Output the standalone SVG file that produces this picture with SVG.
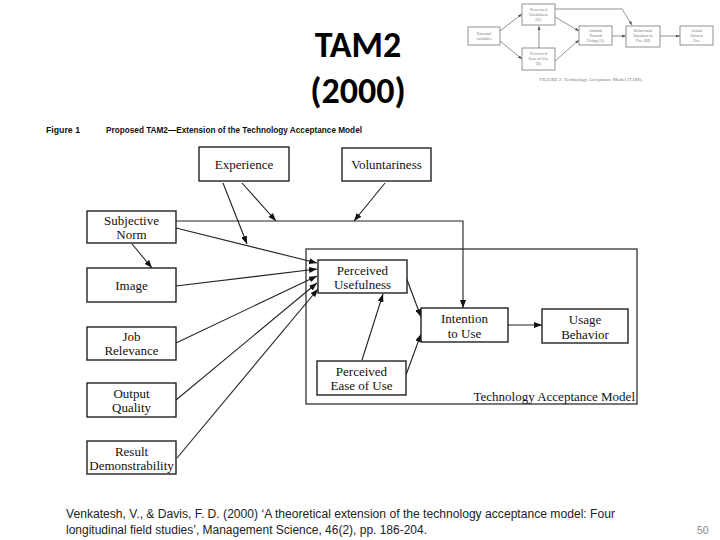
<svg xmlns="http://www.w3.org/2000/svg" width="720" height="540" viewBox="0 0 720 540">
<defs>
<marker id="ah" markerWidth="8" markerHeight="6" refX="8" refY="3" orient="auto" markerUnits="userSpaceOnUse">
<path d="M0,0 L8,3 L0,6 z" fill="#111"/>
</marker>
<marker id="ahs" markerWidth="4" markerHeight="3" refX="4" refY="1.5" orient="auto" markerUnits="userSpaceOnUse">
<path d="M0,0 L4,1.5 L0,3 z" fill="#555"/>
</marker>
<style>
.box{fill:#fff;stroke:#222;stroke-width:1.4}
.frame{fill:none;stroke:#333;stroke-width:1.3}
.t{font-family:"Liberation Serif","Times New Roman",serif;font-size:13px;fill:#111;text-anchor:middle}
.c{stroke:#222;stroke-width:1.1;fill:none}
.a{stroke:#222;stroke-width:1.1;fill:none;marker-end:url(#ah)}
.sb{fill:#fff;stroke:#777;stroke-width:0.8}
.st{font-family:"Liberation Serif","Times New Roman",serif;font-size:4.2px;fill:#777;text-anchor:middle}
.sa{stroke:#666;stroke-width:0.7;fill:none;marker-end:url(#ahs)}
.title{font-family:Carlito,"Liberation Sans",Arial,sans-serif;font-size:36px;font-weight:bold;fill:#000;text-anchor:middle}
.cap{font-family:"Liberation Sans",Arial,sans-serif;font-size:8.5px;font-weight:bold;fill:#111}
.ref{font-family:"Liberation Sans",Arial,sans-serif;font-size:12px;fill:#222}
</style>
</defs>
<rect width="720" height="540" fill="#fff"/>

<g id="title">
<text class="title" x="358" y="57">TAM2</text>
<text class="title" x="358" y="103">(2000)</text>
</g>

<g id="tam-thumbnail">
<g class="sa">
<line x1="500" y1="31" x2="522" y2="14"/>
<line x1="500" y1="41" x2="522" y2="59"/>
<line x1="539" y1="48" x2="539" y2="26"/>
<line x1="555" y1="17" x2="579" y2="31"/>
<line x1="555" y1="61" x2="579" y2="40"/>
<polyline points="555,9 622,9 632,25"/>
<line x1="612" y1="36" x2="626" y2="36"/>
<line x1="660" y1="36" x2="680" y2="36"/>
</g>
<rect class="sb" x="468" y="27" width="32" height="18"/>
<text class="st" x="484" y="35">External</text><text class="st" x="484" y="40">variables</text>
<rect class="sb" x="522" y="4" width="33" height="21"/>
<text class="st" x="538.5" y="11">Perceived</text><text class="st" x="538.5" y="16">Usefulness</text><text class="st" x="538.5" y="21">(U)</text>
<rect class="sb" x="522" y="48" width="33" height="22"/>
<text class="st" x="538.5" y="55">Perceived</text><text class="st" x="538.5" y="60">Ease of Use</text><text class="st" x="538.5" y="65">(E)</text>
<rect class="sb" x="579" y="26" width="33" height="19"/>
<text class="st" x="595.5" y="32">Attitude</text><text class="st" x="595.5" y="37">Toward</text><text class="st" x="595.5" y="42">Using (A)</text>
<rect class="sb" x="626" y="26" width="34" height="21"/>
<text class="st" x="643" y="32">Behavioral</text><text class="st" x="643" y="37">Intention to</text><text class="st" x="643" y="42">Use (BI)</text>
<rect class="sb" x="680" y="26" width="33" height="19"/>
<text class="st" x="696.5" y="32">Actual</text><text class="st" x="696.5" y="37">System</text><text class="st" x="696.5" y="42">Use</text>
<text class="st" x="591" y="81" style="font-size:5px">FIGURE 2.  Technology Acceptance Model (TAM).</text>
</g>

<g id="figure-caption">
<text class="cap" x="46" y="133" textLength="34" lengthAdjust="spacingAndGlyphs">Figure 1</text>
<text class="cap" x="106" y="133" textLength="256" lengthAdjust="spacingAndGlyphs">Proposed TAM2—Extension of the Technology Acceptance Model</text>
</g>

<g id="tam-frame">
<rect class="frame" x="306" y="249" width="331" height="155"/>
<text class="t" x="635" y="401" style="text-anchor:end">Technology Acceptance Model</text>
</g>

<g id="connectors">
<polyline class="a" points="176,221 463,221 463,308"/>
<line class="a" x1="242" y1="183" x2="276" y2="221"/>
<line class="a" x1="385" y1="183" x2="354" y2="221"/>
<line class="a" x1="223" y1="183" x2="247" y2="244"/>
<line class="a" x1="176" y1="228" x2="317" y2="263"/>
<line class="a" x1="132" y1="244" x2="152" y2="268"/>
<line class="a" x1="176" y1="286" x2="317" y2="269"/>
<line class="a" x1="176" y1="343" x2="317" y2="276"/>
<line class="a" x1="176" y1="400" x2="317" y2="283"/>
<line class="a" x1="177" y1="458" x2="318" y2="289"/>
<line class="a" x1="406" y1="277" x2="421" y2="317"/>
<line class="a" x1="406" y1="375" x2="421" y2="334"/>
<line class="a" x1="362" y1="360" x2="383" y2="294"/>
<line class="a" x1="508" y1="325" x2="542" y2="325"/>
</g>

<g id="experience">
<rect class="box" x="199" y="147" width="90" height="34"/>
<text class="t" x="244" y="169">Experience</text>
</g>
<g id="voluntariness">
<rect class="box" x="342" y="148" width="89" height="33"/>
<text class="t" x="386.5" y="169">Voluntariness</text>
</g>
<g id="subjective-norm">
<rect class="box" x="87" y="211" width="89" height="32"/>
<text class="t" x="131.5" y="225">Subjective</text>
<text class="t" x="131.5" y="239">Norm</text>
</g>
<g id="image">
<rect class="box" x="87" y="268" width="89" height="34"/>
<text class="t" x="131.5" y="290">Image</text>
</g>
<g id="job-relevance">
<rect class="box" x="87" y="327" width="89" height="33"/>
<text class="t" x="131.5" y="341">Job</text>
<text class="t" x="131.5" y="355">Relevance</text>
</g>
<g id="output-quality">
<rect class="box" x="87" y="383" width="89" height="34"/>
<text class="t" x="131.5" y="398">Output</text>
<text class="t" x="131.5" y="412">Quality</text>
</g>
<g id="result-demonstrability">
<rect class="box" x="87" y="441" width="89" height="33"/>
<text class="t" x="131.5" y="456">Result</text>
<text class="t" x="131.5" y="470">Demonstrability</text>
</g>
<g id="perceived-usefulness">
<rect class="box" x="318" y="260" width="89" height="33"/>
<text class="t" x="362.5" y="275">Perceived</text>
<text class="t" x="362.5" y="289">Usefulness</text>
</g>
<g id="perceived-ease-of-use">
<rect class="box" x="317" y="361" width="89" height="34"/>
<text class="t" x="361.5" y="376">Perceived</text>
<text class="t" x="361.5" y="390">Ease of Use</text>
</g>
<g id="intention-to-use">
<rect class="box" x="421" y="308" width="87" height="34"/>
<text class="t" x="464.5" y="323">Intention</text>
<text class="t" x="464.5" y="338">to Use</text>
</g>
<g id="usage-behavior">
<rect class="box" x="542" y="309" width="86" height="34"/>
<text class="t" x="585" y="324">Usage</text>
<text class="t" x="585" y="339">Behavior</text>
</g>

<g id="reference">
<text class="ref" x="66" y="518" textLength="549" lengthAdjust="spacingAndGlyphs">Venkatesh, V., &amp; Davis, F. D. (2000) ‘A theoretical extension of the technology acceptance model: Four</text>
<text class="ref" x="66" y="534" textLength="361" lengthAdjust="spacingAndGlyphs">longitudinal field studies’, Management Science, 46(2), pp. 186-204.</text>
<text class="ref" x="697" y="534" style="fill:#888;font-size:10.5px">50</text>
</g>
</svg>
